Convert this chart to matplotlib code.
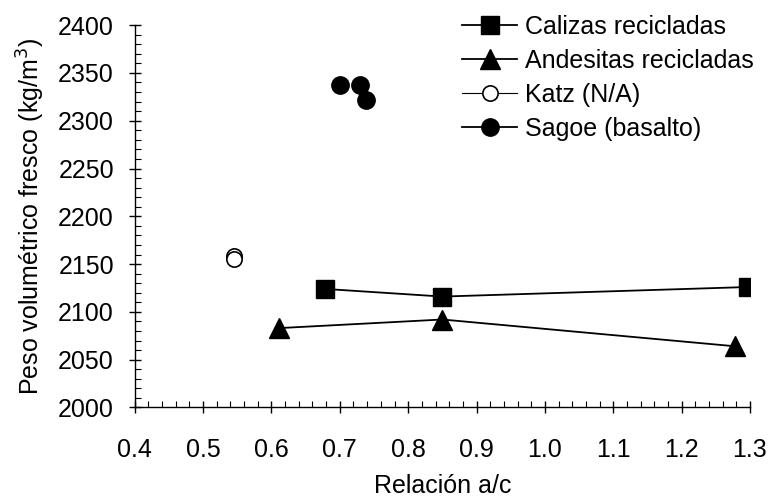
import matplotlib
matplotlib.use('Agg')
import matplotlib.pyplot as plt
from matplotlib.ticker import MultipleLocator, FormatStrFormatter

plt.rcParams['font.family'] = ['Liberation Sans', 'DejaVu Sans']

# data
cal_x = [0.678, 0.85, 1.297]
cal_y = [2124, 2116, 2126]
and_x = [0.611, 0.85, 1.278]
and_y = [2083, 2092, 2064]
katz_x = [0.545, 0.545]
katz_y = [2158, 2155]
sag_x = [0.70, 0.729, 0.739]
sag_y = [2337, 2337, 2322]

fs = 18

fig = plt.figure(figsize=(7.7, 5.03), dpi=100)
ax = fig.add_axes([0.175, 0.19, 0.799, 0.76])

ax.plot(cal_x, cal_y, '-s', color='black', lw=1.3, ms=13, label='Calizas recicladas')
ax.plot(and_x, and_y, '-^', color='black', lw=1.3, ms=14, label='Andesitas recicladas')
ax.plot(katz_x, katz_y, '-o', color='black', lw=0.8, ms=11, mfc='white', mew=1.2,
        label='Katz (N/A)')
ax.plot(sag_x, sag_y, 'o', color='black', ms=12.5, label='Sagoe (basalto)')
# legend handle for Sagoe shows a line through the marker
sag_handle, = ax.plot([], [], '-o', color='black', lw=1.3, ms=12.5)

ax.set_xlim(0.4, 1.3)
ax.set_ylim(2000, 2400)
ax.xaxis.set_major_locator(MultipleLocator(0.1))
ax.xaxis.set_minor_locator(MultipleLocator(0.02))
ax.xaxis.set_major_formatter(FormatStrFormatter('%.1f'))
ax.yaxis.set_major_locator(MultipleLocator(50))
ax.yaxis.set_minor_locator(MultipleLocator(10))

for s in ['top', 'right']:
    ax.spines[s].set_visible(False)
ax.spines['left'].set_linewidth(1.0)
ax.spines['bottom'].set_linewidth(1.0)

ax.tick_params(which='major', direction='inout', length=8, width=1.0, labelsize=fs)
ax.tick_params(axis='x', which='major', pad=18)
ax.tick_params(axis='y', which='major', pad=11)
ax.tick_params(which='minor', direction='in', length=4, width=0.8)

ax.set_xlabel('Relación a/c', fontsize=fs, labelpad=9)
ax.set_ylabel('Peso volumétrico fresco (kg/m$^3$)', fontsize=fs, labelpad=8)

handles, labels = ax.get_legend_handles_labels()
handles[3] = sag_handle
fig.legend(handles, labels, loc='upper left', bbox_to_anchor=(0.6, 0.97),
           frameon=False, fontsize=fs, numpoints=1, handlelength=2.2,
           handletextpad=0.32, labelspacing=0.4, borderpad=0, borderaxespad=0)

fig.savefig('out.png', dpi=100)
